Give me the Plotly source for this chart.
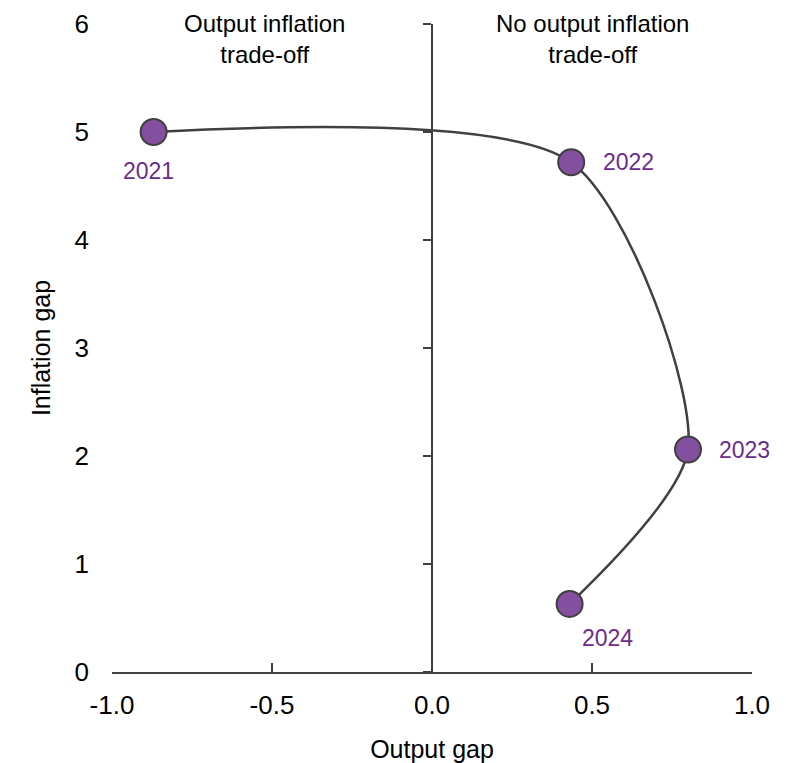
import plotly.graph_objects as go

# data
years = ['2021', '2022', '2023', '2024']
output_gap = [-0.87, 0.435, 0.80, 0.43]
inflation_gap = [5.0, 4.72, 2.06, 0.63]
x_ticks = [-1, -0.5, 0, 0.5, 1]
x_ticktext = ['-1.0', '-0.5', '0.0', '0.5', '1.0']
y_ticks = [0, 1, 2, 3, 4, 5, 6]

purple = '#834f9f'
label_purple = '#6b2c8c'
dark = '#404040'
font_family = 'Liberation Sans, Arial, sans-serif'

fig = go.Figure()

fig.add_trace(go.Scatter(
    x=output_gap, y=inflation_gap,
    mode='lines+markers',
    line=dict(color=dark, width=2.5, shape='spline', smoothing=0.75),
    marker=dict(size=26, color=purple, line=dict(color=dark, width=2)),
    hoverinfo='skip',
    showlegend=False,
))

# year labels offsets (pixels)
shifts = [(-5, -39), (57, 0), (56, 0), (38, -34)]
for yr, xv, yv, (dx, dy) in zip(years, output_gap, inflation_gap, shifts):
    fig.add_annotation(x=xv, y=yv, text=yr, showarrow=False,
                       xshift=dx, yshift=dy,
                       font=dict(size=23, color=label_purple, family=font_family))

# region labels
fig.add_annotation(x=-0.522, y=1.024, yref='paper', text='Output inflation<br>trade-off',
                   showarrow=False, yanchor='top',
                   font=dict(size=24, color='black', family=font_family))
fig.add_annotation(x=0.5, y=1.024, yref='paper', text='No output inflation<br>trade-off',
                   showarrow=False, yanchor='top',
                   font=dict(size=24, color='black', family=font_family))

# page body has an 8px margin, so the figure is a bit smaller than the window
fig.update_layout(
    width=778, height=755,
    margin=dict(l=104, r=34, t=16, b=91),
    plot_bgcolor='white', paper_bgcolor='white',
    font=dict(family=font_family, size=26, color='black'),
    xaxis=dict(
        range=[-1, 1], tickvals=x_ticks, ticktext=x_ticktext,
        showgrid=False, zeroline=False, automargin=False,
        showline=True, linecolor=dark, linewidth=1.5,
        ticks='inside', ticklen=9, tickcolor=dark, tickwidth=1.5,
        ticklabelstandoff=9,
        title=dict(text='Output gap', font=dict(size=25), standoff=23),
    ),
    yaxis=dict(
        range=[0, 6], tickvals=y_ticks, automargin=False,
        showgrid=False, zeroline=False, showline=False,
        ticks='', ticklabelstandoff=22,
        title=dict(text='Inflation gap', font=dict(size=25), standoff=16),
    ),
    yaxis2=dict(
        range=[0, 6], tickvals=y_ticks, automargin=False,
        overlaying='y', anchor='free', position=0.5, side='left',
        showgrid=False, zeroline=False,
        showline=True, linecolor=dark, linewidth=1.5,
        ticks='outside', ticklen=8, tickcolor=dark, tickwidth=1.5,
        showticklabels=False,
    ),
)

# invisible trace to draw the centre axis
fig.add_trace(go.Scatter(x=[None], y=[None], yaxis='y2', showlegend=False, hoverinfo='skip'))

fig.write_html('out.html')
